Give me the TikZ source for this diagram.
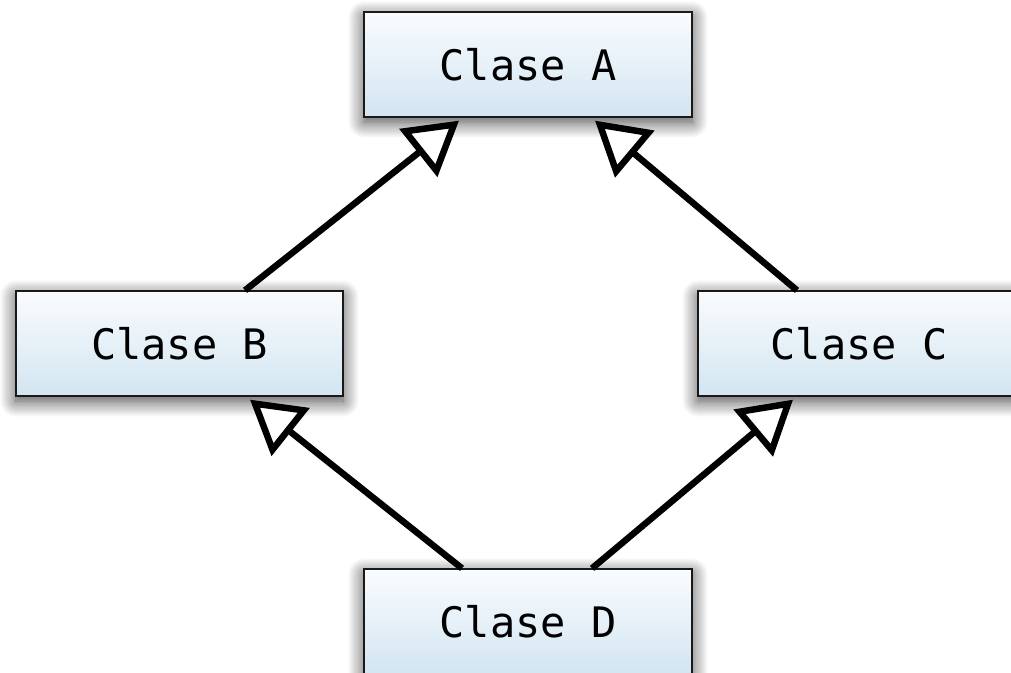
\documentclass[tikz,border=0pt]{standalone}
\usepackage{fontspec}
\setmonofont{DejaVu Sans Mono}
\usetikzlibrary{arrows.meta,shadows.blur}
\definecolor{boxtop}{RGB}{250,252,254}
\definecolor{boxbot}{RGB}{210,229,241}
\definecolor{boxline}{RGB}{25,25,25}
\tikzset{
  classbox/.style={draw=boxline, line width=1.3pt, rectangle,
    top color=boxtop, bottom color=boxbot,
    minimum height=105pt, inner sep=0pt,
    font=\ttfamily\fontsize{42}{50}\selectfont,
    blur shadow={shadow xshift=0pt, shadow yshift=-5pt, shadow blur radius=16pt, shadow opacity=75, shadow blur steps=16}},
  inherit/.style={line width=6.5pt, -{Triangle[open, length=52pt, width=60pt, fill=white]}}
}
\begin{document}
\begin{tikzpicture}[x=1pt,y=-1pt]
\useasboundingbox (0,0) rectangle (1011,672);
\node[classbox, minimum width=328pt] (A) at (528,64.5) {Clase A};
\node[classbox, minimum width=327pt] (B) at (179.5,343.5) {Clase B};
\node[classbox, minimum width=322pt] (C) at (859,343.5) {Clase C};
\node[classbox, minimum width=328pt] (D) at (528,621.5) {Clase D};
\draw[inherit] ([xshift=65.5pt]B.north) -- ([xshift=-69pt,yshift=-3pt]A.south);
\draw[inherit] ([xshift=-62pt]C.north) -- ([xshift=67pt,yshift=-3pt]A.south);
\draw[inherit] ([xshift=-66pt]D.north) -- ([xshift=70.5pt,yshift=-3pt]B.south);
\draw[inherit] ([xshift=64pt]D.north) -- ([xshift=-66pt,yshift=-3pt]C.south);
\end{tikzpicture}
\end{document}
